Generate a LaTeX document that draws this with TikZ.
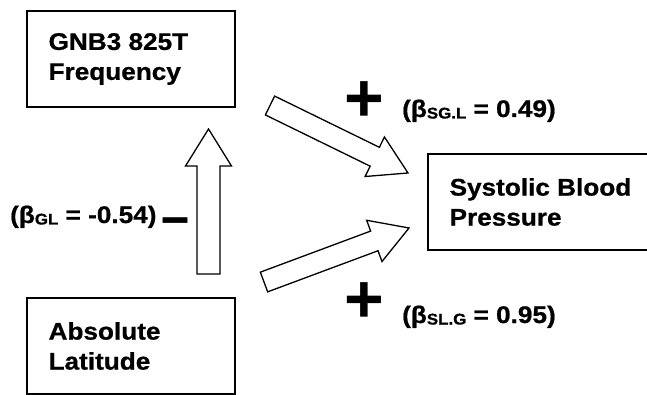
\documentclass[tikz,border=0pt]{standalone}
\usepackage{fontspec}
\setmainfont{Liberation Sans}[FakeStretch=1.09, BoldFeatures={FakeBold=0.8}]
\newfontfamily\symfont{Liberation Sans}
\newfontfamily\minusfont{Liberation Sans}[FakeStretch=1.05, FakeBold=1]
\usetikzlibrary{calc}
\newcommand\sub[1]{\raisebox{-1.5pt}{\fontsize{15.5}{15.5}\selectfont #1}}
\newcommand\fatarrow[5]{%
  \coordinate (hb) at ($(#2)!#5!(#1)$);
  \draw[fat] ($(#1)!#3!90:(#2)$) -- ($(hb)!#3!90:(#2)$) -- ($(hb)!#4!90:(#2)$) -- (#2)
    -- ($(hb)!#4!-90:(#2)$) -- ($(hb)!#3!-90:(#2)$) -- ($(#1)!#3!-90:(#2)$) -- cycle;}
\tikzset{
  box/.style={draw=black, line width=1.2pt, fill=white, inner sep=0pt},
  boxtext/.style={inner sep=0pt, align=left, font=\bfseries\fontsize{24}{30}\selectfont},
  coef/.style={inner sep=0pt, anchor=base west, font=\bfseries\fontsize{24}{30}\selectfont},
  sign/.style={inner sep=0pt, font=\symfont\bfseries\fontsize{68}{68}\selectfont},
  minussign/.style={inner sep=0pt, font=\minusfont\bfseries\fontsize{46}{46}\selectfont},
  fat/.style={draw=black, fill=white, line width=1.3pt, line join=miter}
}
\begin{document}
\begin{tikzpicture}[x=1pt,y=-1pt]
\useasboundingbox (0,0) rectangle (647,395);
% boxes
\node[box, minimum width=208pt, minimum height=96pt] (g) at (131,59) {};
\node[box, minimum width=208pt, minimum height=96pt] (l) at (131,346) {};
\node[box, minimum width=219.5pt, minimum height=96pt] (s) at (537.75,202) {};
\node[boxtext, anchor=west] (gt) at ($(g.west)+(22,0)$) {GNB3 825T\\Frequency};
\node[boxtext, anchor=west] (lt) at ($(l.west)+(22,0)$) {Absolute\\Latitude};
\node[boxtext, anchor=west] (st) at ($(s.west)+(22,0)$) {Systolic Blood\\Pressure};
% arrows
\coordinate (vtail) at (208.5,274);
\coordinate (vtip) at (208.5,129);
\coordinate (utail) at (270,105.5);
\coordinate (utip) at (408,173);
\coordinate (ltail) at (264,282);
\coordinate (ltip) at (409,228);
\fatarrow{vtail}{vtip}{11.5pt}{23pt}{37pt}
\fatarrow{utail}{utip}{10.5pt}{22pt}{37pt}
\fatarrow{ltail}{ltip}{10.5pt}{22pt}{37pt}
% coefficients
\node[coef] (cgl) at (10,223) {(β\sub{GL} = -0.54)};
\node[coef] (csg) at (402,117) {(β\sub{SG.L} = 0.49)};
\node[coef] (csl) at (402,323) {(β\sub{SL.G} = 0.95)};
\node[minussign] (minus) at (175,226.5) {−};
\node[sign] (plus1) at (364.5,102) {+};
\node[sign] (plus2) at (364.5,302.5) {+};
\end{tikzpicture}
\end{document}
